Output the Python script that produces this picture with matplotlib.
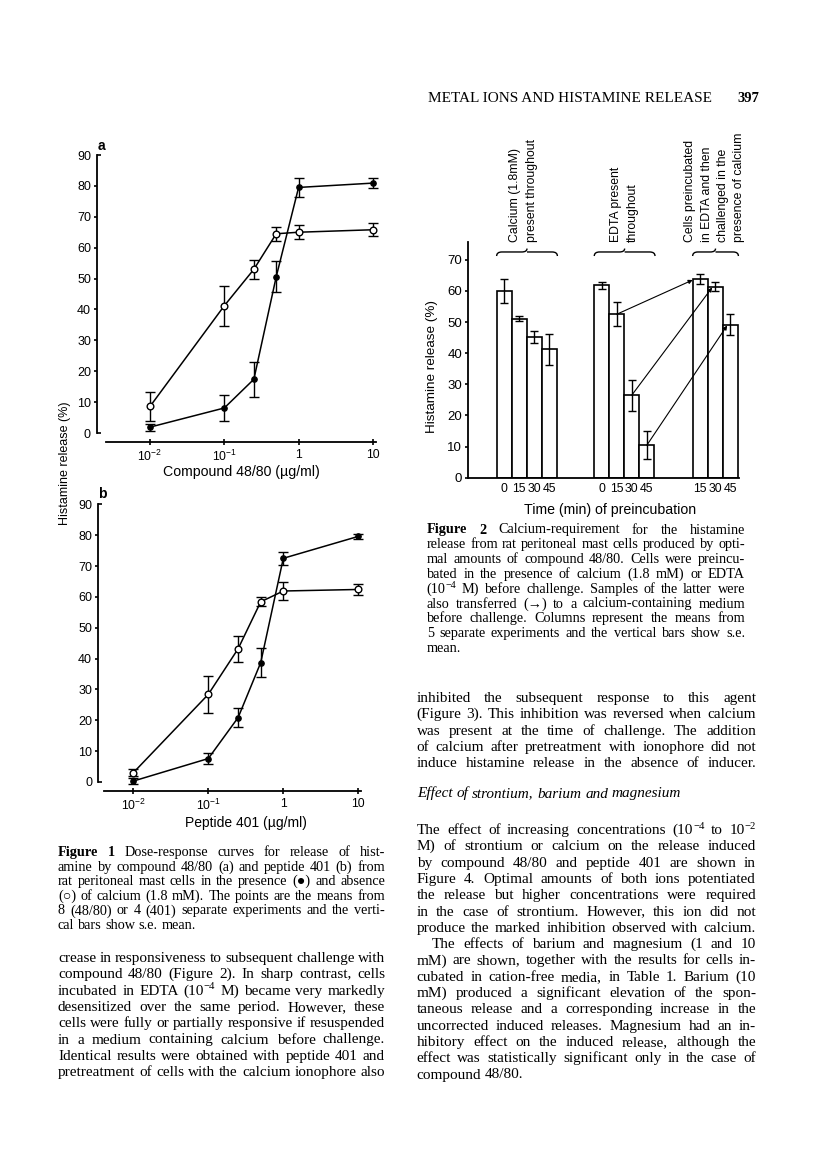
import re
import statistics
import matplotlib
matplotlib.use('Agg')
import matplotlib.pyplot as plt
from matplotlib.path import Path
from matplotlib.patches import PathPatch

W, H, DPI = 816, 1149, 100
plt.rcParams['mathtext.fontset'] = 'custom'
plt.rcParams['mathtext.rm'] = 'Liberation Sans'
plt.rcParams['mathtext.it'] = 'Liberation Sans:italic'
plt.rcParams['mathtext.bf'] = 'Liberation Sans:bold'
SANS = ['Liberation Sans', 'DejaVu Sans']
SERIF = 'Liberation Serif'
plt.rcParams['font.family'] = SANS

# ---------------- data: Figure 1 ----------------
dose = [0.01, 0.1, 0.25, 0.5, 1, 10]
a_open = [8.6, 41.2, 53.0, 64.5, 65.0, 65.8]
a_open_err = [4.7, 6.4, 3.1, 2.3, 2.3, 2.1]
a_closed = [1.9, 8.1, 17.4, 50.6, 79.5, 80.9]
a_closed_err = [1.1, 4.2, 5.7, 5.0, 3.1, 1.7]
b_open = [3.0, 28.4, 43.2, 58.4, 61.9, 62.4]
b_open_err = [1.2, 6.1, 4.2, 1.5, 3.0, 1.9]
b_closed = [0.3, 7.6, 20.9, 38.7, 72.5, 79.6]
b_closed_err = [1.0, 1.9, 3.0, 4.6, 2.2, 0.8]
y_ticks_fig1 = [0, 10, 20, 30, 40, 50, 60, 70, 80, 90]
x_ticks_fig1 = [0.01, 0.1, 1, 10]
x_ticklabels_fig1 = [r'$10^{-2}$', r'$10^{-1}$', '1', '10']

# ---------------- data: Figure 2 ----------------
g1_times = ['0', '15', '30', '45']
g1_vals = [60.0, 51.0, 45.2, 41.2]
g1_err = [3.8, 0.8, 2.0, 5.0]
g2_times = ['0', '15', '30', '45']
g2_vals = [61.8, 52.5, 26.5, 10.4]
g2_err = [1.2, 3.8, 5.0, 4.5]
g3_times = ['15', '30', '45']
g3_vals = [63.8, 61.4, 49.2]
g3_err = [1.7, 1.5, 3.5]
transfer_from = [1, 2, 3]   # index into EDTA group
transfer_to = [0, 1, 2]     # index into transferred group
y_ticks_fig2 = [0, 10, 20, 30, 40, 50, 60, 70]
group_labels = [["Calcium (1.8mM)", "present throughout"],
                ["EDTA present", "throughout"],
                ["Cells preincubated", "in EDTA and then",
                 "challenged in the", "presence of calcium"]]

fig = plt.figure(figsize=(W / DPI, H / DPI), dpi=DPI)
fig.patch.set_facecolor('white')


def fx(x):
    return x / W


def fy(y):
    return 1 - y / H


def px_axes(left, top, right, bottom):
    return fig.add_axes([fx(left), fy(bottom), (right - left) / W, (bottom - top) / H])


def ptext(x, y, s, **kw):
    return fig.text(fx(x), fy(y), s, **kw)


PT = 72.0 / DPI  # points per pixel


def dose_panel(left, right, top, bottom, anchor_px, decade_px, spine_lo, spine_hi,
               openv, opene, closedv, closede):
    ax = px_axes(left, top, right, bottom)
    ax.set_xscale('log')
    lo = 10 ** (-2 + (left - anchor_px) / decade_px)
    hi = 10 ** (-2 + (right - anchor_px) / decade_px)
    ax.set_xlim(lo, hi)
    ax.set_ylim(0, 90)
    for s in ['top', 'right']:
        ax.spines[s].set_visible(False)
    ax.spines['left'].set_bounds(0, 90)
    ax.spines['bottom'].set_position(('outward', 9 * PT))
    ax.spines['bottom'].set_bounds(spine_lo, spine_hi)
    for s in ['left', 'bottom']:
        ax.spines[s].set_linewidth(1.3)
    ax.patch.set_alpha(0)
    ax.plot(dose, openv, '-', color='k', lw=1.1, zorder=2, clip_on=False)
    ax.plot(dose, closedv, '-', color='k', lw=1.1, zorder=2, clip_on=False)
    ax.errorbar(dose, openv, yerr=opene, fmt='none', ecolor='k', elinewidth=1.0,
                capsize=3.6, capthick=1.0, zorder=3, clip_on=False)
    ax.errorbar(dose, closedv, yerr=closede, fmt='none', ecolor='k', elinewidth=1.0,
                capsize=3.6, capthick=1.0, zorder=3, clip_on=False)
    ax.plot(dose, openv, 'o', ms=4.8, mfc='white', mec='k', mew=1.0, zorder=4, clip_on=False)
    ax.plot(dose, closedv, 'o', ms=3.8, mfc='k', mec='k', zorder=5, clip_on=False)
    ax.set_yticks(y_ticks_fig1[1:-1])
    ax.set_yticklabels([str(v) for v in y_ticks_fig1[1:-1]])
    ax.set_yticks([y_ticks_fig1[0], y_ticks_fig1[-1]], minor=True)
    ax.set_yticklabels([str(y_ticks_fig1[0]), str(y_ticks_fig1[-1])], minor=True)
    ax.tick_params(axis='y', which='major', direction='out', length=3.5 * PT, width=1.2,
                   pad=1.8, labelsize=9)
    ax.tick_params(axis='y', which='minor', direction='in', length=4 * PT, width=1.2,
                   pad=1.8 + 3.5 * PT, labelsize=9)
    ax.set_xticks(x_ticks_fig1)
    ax.set_xticklabels(x_ticklabels_fig1)
    ax.xaxis.set_minor_locator(matplotlib.ticker.NullLocator())
    ax.tick_params(axis='x', which='major', direction='inout', length=6 * PT, width=1.2,
                   pad=3, labelsize=8.8)
    return ax


# Panel a
ax_a = dose_panel(97, 378, 155, 433, 150, 74.3, 10 ** -2.59, 10 ** 1.04,
                  a_open, a_open_err, a_closed, a_closed_err)
ptext(101, 146, 'a', fontsize=10, fontweight='bold', ha='center', va='center')
ptext(241, 472, 'Compound 48/80 (\u00b5g/ml)', fontsize=10.2, ha='center', va='center')

# Panel b
ax_b = dose_panel(98, 365, 504.3, 782, 133.3, 75.0, 10 ** -2.39, 10 ** 1.04,
                  b_open, b_open_err, b_closed, b_closed_err)
ptext(102, 494, 'b', fontsize=10, fontweight='bold', ha='center', va='center')
ptext(246, 823, 'Peptide 401 (\u00b5g/ml)', fontsize=10, ha='center', va='center')

ptext(65, 463, 'Histamine release (%)', fontsize=9, rotation=90, ha='center', va='center')

# ---------------- Figure 2 bar chart ----------------
ax2 = px_axes(468.3, 241.7, 739, 477.7)
ax2.set_xlim(0, 18.05)
ax2.set_ylim(0, 75.8)
for s in ['top', 'right']:
    ax2.spines[s].set_visible(False)
for s in ['left', 'bottom']:
    ax2.spines[s].set_linewidth(1.3)
ax2.patch.set_alpha(0)

group_starts = [2.39, 8.9, 15.46]
groups = [(g1_times, g1_vals, g1_err), (g2_times, g2_vals, g2_err), (g3_times, g3_vals, g3_err)]
all_pos, all_lab = [], []
pos_by_group = []
for gs, (tl, vals, errs) in zip(group_starts, groups):
    pos = [gs + i for i in range(len(vals))]
    pos_by_group.append(pos)
    ax2.bar(pos, vals, width=1.0, color='white', edgecolor='k', linewidth=1.2, zorder=2)
    ax2.errorbar(pos, vals, yerr=errs, fmt='none', ecolor='k', elinewidth=1.0,
                 capsize=3.0, capthick=1.0, zorder=3)
    all_pos += pos
    all_lab += tl

ax2.set_xticks(all_pos)
ax2.set_xticklabels(all_lab)
ax2.tick_params(axis='x', length=0, pad=3.5, labelsize=8.8)
ax2.set_yticks(y_ticks_fig2)
ax2.tick_params(axis='y', direction='out', length=3.5 * PT, width=1.2, pad=2, labelsize=9.5)

end_offsets = [-0.5, -0.2, -0.2]
for k, (i, j) in enumerate(zip(transfer_from, transfer_to)):
    x0 = pos_by_group[1][i]
    y0 = g2_vals[i]
    x1 = pos_by_group[2][j] + end_offsets[k]
    y1 = g3_vals[j] - 0.3
    ax2.annotate('', xy=(x1, y1), xytext=(x0, y0),
                 arrowprops=dict(arrowstyle='-|>', lw=0.8, color='k',
                                 mutation_scale=6, shrinkA=0, shrinkB=0),
                 zorder=4, annotation_clip=False)


def brace(ax, x0, x1, y_end, y_flat, y_tip, d=0.35):
    xm = (x0 + x1) / 2
    verts = [(x0, y_end), (x0, y_flat), (x0 + d, y_flat),
             (xm - d, y_flat), (xm, y_flat), (xm, y_tip),
             (xm, y_flat), (xm + d, y_flat),
             (x1 - d, y_flat), (x1, y_flat), (x1, y_end)]
    codes = [Path.MOVETO, Path.CURVE3, Path.CURVE3,
             Path.LINETO, Path.CURVE3, Path.CURVE3,
             Path.MOVETO, Path.LINETO,
             Path.LINETO, Path.CURVE3, Path.CURVE3]
    ax.add_patch(PathPatch(Path(verts, codes), fill=False, lw=1.0, ec='k',
                           clip_on=False, zorder=5))


for pos in pos_by_group:
    brace(ax2, pos[0] - 0.5, pos[-1] + 0.55, 71.2, 72.5, 73.6)

label_cols = [[515, 531.7], [616, 633], [690, 706.7, 723, 739.3]]
for cols, lines in zip(label_cols, group_labels):
    for xc, line in zip(cols, lines):
        ptext(xc, 241.7, line, fontsize=8.8, rotation=90, ha='center', va='bottom')

ptext(431.7, 366.7, 'Histamine release (%)', fontsize=9.7, rotation=90, ha='center', va='center')
ptext(610, 510, 'Time (min) of preincubation', fontsize=10.2, ha='center', va='center')

# ---------------- page text ----------------
renderer = fig.canvas.get_renderer()
_meas = fig.text(0, 0, '', family=SERIF)


def parse_word(w):
    weight = 'normal'
    if w.startswith('**'):
        w = w[2:]
        weight = 'bold'
    segs = []
    for m in re.finditer(r'\^\{([^}]*)\}|([^\^]+)', w):
        if m.group(1) is not None:
            segs.append((m.group(1), True))
        else:
            segs.append((m.group(2), False))
    return segs, weight


def seg_width(s, size, weight, style):
    _meas.set_text(s)
    _meas.set_fontsize(size)
    _meas.set_fontweight(weight)
    _meas.set_fontstyle(style)
    return _meas.get_window_extent(renderer).width


def word_width(w, size, style):
    segs, weight = parse_word(w)
    return sum(seg_width(s, size * (0.7 if sup else 1.0), weight, style) for s, sup in segs)


def natural_width(line, size, style='normal'):
    words = line.split(' ')
    sp = size / PT * 0.25
    return sum(word_width(w, size, style) for w in words) + sp * (len(words) - 1)


def draw_word(w, x, yb, size, style):
    segs, weight = parse_word(w)
    for s, sup in segs:
        sz = size * (0.7 if sup else 1.0)
        dy = -size / PT * 0.36 if sup else 0
        fig.text(fx(x), fy(yb + dy), s, fontsize=sz, family=SERIF, fontweight=weight,
                 fontstyle=style, ha='left', va='baseline')
        x += seg_width(s, sz, weight, style)
    return x


def text_line(line, x0, x1, yb, size, justify=True, indent=0, style='normal'):
    words = line.split(' ')
    widths = [word_width(w, size, style) for w in words]
    x = x0 + indent
    sp = size / PT * 0.25
    if justify and len(words) > 1:
        gap = (x1 - x - sum(widths)) / (len(words) - 1)
    else:
        gap = sp
    for w, wd in zip(words, widths):
        draw_word(w, x, yb, size, style)
        x += wd + gap


def fit_size(lines, x0, x1, size0, skip=(), indents=None):
    ratios = []
    for k, line in enumerate(lines):
        if k in skip:
            continue
        ind = indents.get(k, 0) if indents else 0
        ratios.append((x1 - x0 - ind) / natural_width(line, size0))
    return size0 * statistics.median(ratios)


def paragraph(lines, x0, x1, y_first, spacing, size, last_left=(), indents=None,
              style='normal', fit=True):
    if fit:
        size = fit_size(lines, x0, x1, size, skip=last_left, indents=indents) * 0.975
    for k, line in enumerate(lines):
        ind = indents.get(k, 0) if indents else 0
        text_line(line, x0, x1, y_first + k * spacing, size,
                  justify=(k not in last_left), indent=ind, style=style)
    return size


# header
ptext(428, 101.5, 'METAL IONS AND HISTAMINE RELEASE', fontsize=11, family=SERIF,
      ha='left', va='baseline')
ptext(737, 101.5, '397', fontsize=10.5, family=SERIF, fontweight='bold', ha='left',
      va='baseline')

cap1 = ["**Figure **1 Dose-response curves for release of hist-",
        "amine by compound 48/80 (a) and peptide 401 (b) from",
        "rat peritoneal mast cells in the presence (\u25cf) and absence",
        "(\u25cb) of calcium (1.8 mM). The points are the means from",
        "8 (48/80) or 4 (401) separate experiments and the verti-",
        "cal bars show s.e. mean."]
cap_size = paragraph(cap1, 58, 385, 856, 14.6, 9, last_left=(5,))

body1 = ["crease in responsiveness to subsequent challenge with",
         "compound 48/80 (Figure 2). In sharp contrast, cells",
         "incubated in EDTA (10^{\u22124} M) became very markedly",
         "desensitized over the same period. However, these",
         "cells were fully or partially responsive if resuspended",
         "in a medium containing calcium before challenge.",
         "Identical results were obtained with peptide 401 and",
         "pretreatment of cells with the calcium ionophore also"]
body_size = paragraph(body1, 58, 385, 962, 16.3, 10.2)

cap2 = ["**Figure **2 Calcium-requirement for the histamine",
        "release from rat peritoneal mast cells produced by opti-",
        "mal amounts of compound 48/80. Cells were preincu-",
        "bated in the presence of calcium (1.8 mM) or EDTA",
        "(10^{\u22124} M) before challenge. Samples of the latter were",
        "also transferred (\u2192) to a calcium-containing medium",
        "before challenge. Columns represent the means from",
        "5 separate experiments and the vertical bars show s.e.",
        "mean."]
paragraph(cap2, 426.7, 745, 533.5, 14.8, cap_size, last_left=(8,), fit=False)

body2 = ["inhibited the subsequent response to this agent",
         "(Figure 3). This inhibition was reversed when calcium",
         "was present at the time of challenge. The addition",
         "of calcium after pretreatment with ionophore did not",
         "induce histamine release in the absence of inducer."]
paragraph(body2, 416.7, 756, 702, 16.3, body_size, fit=False)

text_line("Effect of strontium, barium and magnesium", 416.7, 756, 797.5, body_size,
          justify=False, style='italic')

body3 = ["The effect of increasing concentrations (10^{\u22124} to 10^{\u22122}",
         "M) of strontium or calcium on the release induced",
         "by compound 48/80 and peptide 401 are shown in",
         "Figure 4. Optimal amounts of both ions potentiated",
         "the release but higher concentrations were required",
         "in the case of strontium. However, this ion did not",
         "produce the marked inhibition observed with calcium.",
         "The effects of barium and magnesium (1 and 10",
         "mM) are shown, together with the results for cells in-",
         "cubated in cation-free media, in Table 1. Barium (10",
         "mM) produced a significant elevation of the spon-",
         "taneous release and a corresponding increase in the",
         "uncorrected induced releases. Magnesium had an in-",
         "hibitory effect on the induced release, although the",
         "effect was statistically significant only in the case of",
         "compound 48/80."]
paragraph(body3, 416.7, 756, 834, 16.3, body_size, last_left=(15,), indents={7: 15},
          fit=False)

_meas.set_text('')
fig.savefig('out.png', dpi=DPI, facecolor='white')
